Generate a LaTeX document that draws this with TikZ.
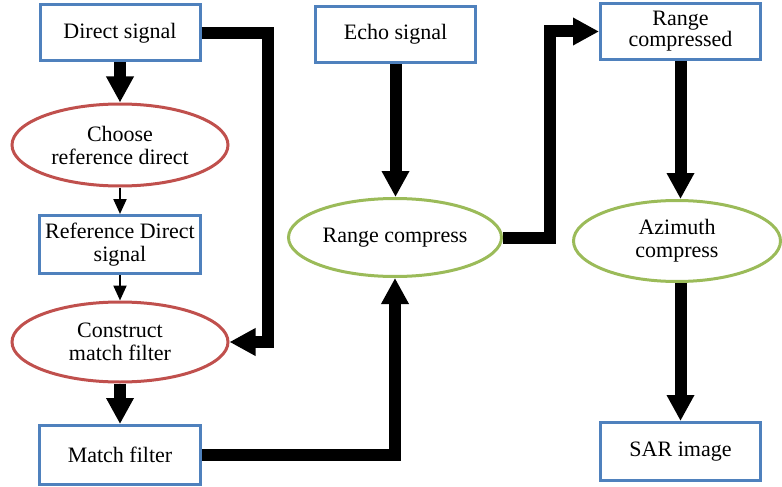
\documentclass[tikz,border=0pt]{standalone}
\usepackage{fontspec}
\setmainfont{Liberation Serif}
\usetikzlibrary{arrows.meta,shapes.geometric}

\definecolor{boxblue}{HTML}{4F81BD}
\definecolor{ellred}{HTML}{C0504D}
\definecolor{ellgreen}{HTML}{9BBB59}

\tikzset{
	block/.style={draw=boxblue,line width=3pt,minimum width=160pt,minimum height=56pt,inner sep=0pt,align=center,font=\fontsize{22}{23}\selectfont},
	redop/.style={ellipse,draw=ellred,line width=3pt,minimum width=216pt,minimum height=82pt,inner sep=0pt,align=center,font=\fontsize{22}{23}\selectfont},
	greenop/.style={ellipse,draw=ellgreen,line width=3pt,inner sep=0pt,align=center,font=\fontsize{22}{23}\selectfont},
	bigarrow/.style={line width=12pt,-{Triangle[width=26pt,length=26pt]}},
	smallarrow/.style={line width=2.2pt,-{Triangle[width=13pt,length=15pt]}}
}

\begin{document}
\begin{tikzpicture}[x=1pt,y=-1pt]
			\useasboundingbox (0,0) rectangle (782,487);
			\node[block] (direct) at (120,33) {Direct signal};
			\node[redop] (choose) at (120,145) {Choose\\reference direct};
			\node[block,minimum width=161pt,minimum height=58pt] (refdirect) at (120,244.5) {Reference Direct\\signal};
			\node[redop,minimum height=80pt] (construct) at (120,342) {Construct\\match filter};
			\node[block,minimum width=161pt,minimum height=59pt] (match) at (120,455) {Match filter};
			\node[block] (echo) at (395.5,34.5) {Echo signal};
			\node[greenop,minimum width=213pt,minimum height=78pt] (rangecomp) at (395,237.5) {Range compress};
			\node[block,font=\fontsize{22}{20}\selectfont] (rangecompd) at (680.5,31.5) {Range\\compressed};
			\node[greenop,minimum width=207pt,minimum height=81pt] (azimuth) at (677,241) {Azimuth\\compress};
			\node[block,minimum height=58pt] (sar) at (680.5,451.5) {SAR image};
			\coordinate (dcol) at (268,0);
			\coordinate (rcol) at (550,0);
			\draw[bigarrow] (direct.south)--(choose.north);
			\draw[smallarrow] (choose.south)--(refdirect.north);
			\draw[smallarrow] (refdirect.south)--(construct.north);
			\draw[bigarrow] (construct.south)--(match.north);
			\draw[bigarrow] (direct.east)--(direct.east -| dcol)--(construct.east -| dcol)--(construct.east);
			\draw[bigarrow] (match.east)-|(rangecomp.south);
			\draw[bigarrow] (echo.south)--(echo.south |- rangecomp.north);
			\draw[bigarrow] (rangecomp.east)--(rangecomp.east -| rcol)--(rangecompd.west -| rcol)--(rangecompd.west);
			\draw[bigarrow] (rangecompd.south)--(rangecompd.south |- azimuth.north);
			\draw[bigarrow] (azimuth.south -| rangecompd.south)--(sar.north);
		\end{tikzpicture}
\end{document}
